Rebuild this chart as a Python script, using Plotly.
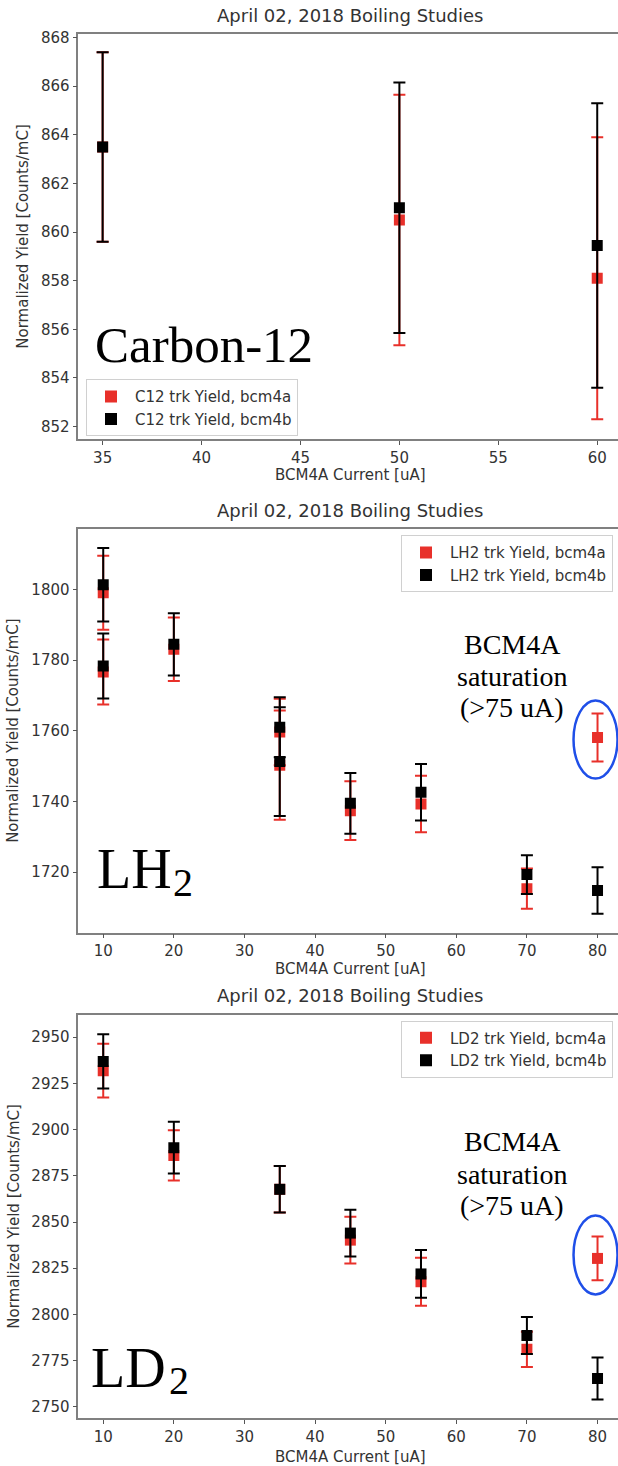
import plotly.graph_objects as go

# ---------------- data ----------------
# Carbon-12
c12_x = [35, 50, 60]
c12_a = [863.5, 860.5, 858.1]
c12_a_err = [3.9, 5.15, 5.8]
c12_b = [863.5, 861.0, 859.45]
c12_b_err = [3.9, 5.15, 5.85]

# LH2
lh2_x = [10, 10, 20, 35, 35, 45, 55, 70, 80]
lh2_a = [1799.1, 1776.7, 1783.1, 1759.7, 1750.3, 1737.4, 1739.3, 1715.3, 1758.1]
lh2_a_err = [10.5, 9.2, 9.0, 9.4, 15.5, 8.3, 8.0, 5.7, 6.8]
lh2_b = [1801.4, 1778.4, 1784.5, 1761.0, 1751.3, 1739.5, 1742.6, 1719.3, 1714.8]
lh2_b_err = [10.4, 9.2, 8.8, 8.5, 15.4, 8.6, 8.0, 5.5, 6.6]

# LD2
ld2_x = [10, 20, 35, 45, 55, 70, 80]
ld2_a = [2931.9, 2886.0, 2867.7, 2840.2, 2817.7, 2781.1, 2830.3]
ld2_a_err = [14.5, 13.6, 12.6, 12.7, 13.0, 9.5, 11.8]
ld2_b = [2936.9, 2890.2, 2867.7, 2844.0, 2821.9, 2788.6, 2765.3]
ld2_b_err = [14.7, 14.0, 12.6, 12.6, 12.9, 10.0, 11.4]

c12_names = ["C12 trk Yield, bcm4a", "C12 trk Yield, bcm4b"]
lh2_names = ["LH2 trk Yield, bcm4a", "LH2 trk Yield, bcm4b"]
ld2_names = ["LD2 trk Yield, bcm4a", "LD2 trk Yield, bcm4b"]

c12_yticks = [852, 854, 856, 858, 860, 862, 864, 866, 868]
c12_xticks = [35, 40, 45, 50, 55, 60]
lh2_yticks = [1720, 1740, 1760, 1780, 1800]
ld2_yticks = [2750, 2775, 2800, 2825, 2850, 2875, 2900, 2925, 2950]
cur_xticks = [10, 20, 30, 40, 50, 60, 70, 80]

title_text = "April 02, 2018 Boiling Studies"
xlabel = "BCM4A Current [uA]"
ylabel = "Normalized Yield [Counts/mC]"
sat_lines = ["BCM4A", "saturation", "(>75 uA)"]

# ---------------- style / layout ----------------
W, H = 618, 1466
RED = "#e8302a"
BLACK = "#000000"
SANS = "DejaVu Sans"
SERIF = "Liberation Serif"
AXCOL = "#808080"
TXT = "#333333"

def py(px):
    return 1 - px / H

def px_x(px):
    return px / W

X0 = 78.3
panels = [
    dict(top=29.3, bottom=435.7, xr=[33.77, 61.05], yr=[851.48, 868.14]),
    dict(top=526.0, bottom=930.7, xr=[6.47, 82.9], yr=[1702.9, 1817.1]),
    dict(top=1013.3, bottom=1418.3, xr=[6.47, 82.9], yr=[2743.7, 2962.1]),
]

fig = go.Figure()

datasets = [
    (c12_x, c12_a, c12_a_err, c12_b, c12_b_err, c12_names, "legend"),
    (lh2_x, lh2_a, lh2_a_err, lh2_b, lh2_b_err, lh2_names, "legend2"),
    (ld2_x, ld2_a, ld2_a_err, ld2_b, ld2_b_err, ld2_names, "legend3"),
]

for i, (xs, ya, ea, yb, eb, names, leg) in enumerate(datasets):
    xa = "x" if i == 0 else f"x{i+1}"
    yaa = "y" if i == 0 else f"y{i+1}"
    for ys, es, col, nm in [(ya, ea, RED, names[0]), (yb, eb, BLACK, names[1])]:
        fig.add_trace(go.Scatter(
            x=xs, y=ys, mode="markers", name=nm, legend=leg,
            xaxis=xa, yaxis=yaa,
            marker=dict(symbol="square", size=11, color=col, line=dict(width=0)),
            error_y=dict(type="data", array=es, visible=True, color=col,
                         thickness=2, width=6),
        ))

axis_common = dict(
    showgrid=False, zeroline=False, showline=True, linecolor=AXCOL, linewidth=1.5,
    ticks="outside", ticklen=4, tickwidth=1.2, tickcolor="#555555",
    tickfont=dict(family=SANS, size=15, color=TXT),
)

layout_axes = {}
tick_sets = [(c12_xticks, c12_yticks), (cur_xticks, lh2_yticks), (cur_xticks, ld2_yticks)]
for i, p in enumerate(panels):
    xk = "xaxis" if i == 0 else f"xaxis{i+1}"
    yk = "yaxis" if i == 0 else f"yaxis{i+1}"
    ya_name = "y" if i == 0 else f"y{i+1}"
    xa_name = "x" if i == 0 else f"x{i+1}"
    xt, yt = tick_sets[i]
    layout_axes[xk] = dict(axis_common, domain=[X0 / W, 1.0], range=p["xr"],
                           anchor=ya_name, tickvals=xt, mirror=True)
    layout_axes[yk] = dict(axis_common, domain=[py(p["bottom"]), py(p["top"])],
                           range=p["yr"], anchor=xa_name, tickvals=yt, mirror=False,
                           ticklabelstandoff=0)

fig.update_layout(
    width=W, height=H,
    margin=dict(l=0, r=0, t=0, b=0),
    paper_bgcolor="white", plot_bgcolor="white",
    showlegend=True,
    **layout_axes,
)

leg_common = dict(
    xanchor="left", yanchor="top", bgcolor="rgba(255,255,255,0.85)",
    bordercolor="#d0d0d0", borderwidth=1, itemwidth=38,
    font=dict(family=SANS, size=15, color=TXT), itemsizing="constant",
)
fig.update_layout(
    legend=dict(leg_common, x=px_x(86), y=py(375.5)),
    legend2=dict(leg_common, x=px_x(401), y=py(532)),
    legend3=dict(leg_common, x=px_x(401), y=py(1019)),
)

ann = []
title_y = [11, 507, 994]
xlab_y = [472, 967, 1457]
ylab_x = [23, 13, 14]
for i, p in enumerate(panels):
    cx = (X0 + 622) / 2
    ann.append(dict(text=title_text, x=px_x(cx), y=py(title_y[i]), xref="paper", yref="paper",
                    xanchor="center", yanchor="middle", showarrow=False,
                    font=dict(family=SANS, size=18, color=TXT)))
    ann.append(dict(text=xlabel, x=px_x(cx), y=py(xlab_y[i]), xref="paper", yref="paper",
                    xanchor="center", yanchor="middle", showarrow=False,
                    font=dict(family=SANS, size=15, color=TXT)))
    ann.append(dict(text=ylabel, x=px_x(ylab_x[i]), y=py((p["top"] + p["bottom"]) / 2),
                    xref="paper", yref="paper", textangle=-90,
                    xanchor="center", yanchor="middle", showarrow=False,
                    font=dict(family=SANS, size=15, color=TXT)))

# big target labels
big = [
    ("Carbon-12", 93, 341, 51),
    ("LH", 95, 867, 56),
    ("LD", 89, 1368, 56),
]
for t, xx, yy, fs in big:
    ann.append(dict(text=t, x=px_x(xx), y=py(yy), xref="paper", yref="paper",
                    xanchor="left", yanchor="middle", showarrow=False,
                    font=dict(family=SERIF, size=fs, color="black")))
for xx, yy in [(171, 881), (167, 1380)]:
    ann.append(dict(text="2", x=px_x(xx), y=py(yy), xref="paper", yref="paper",
                    xanchor="left", yanchor="middle", showarrow=False,
                    font=dict(family=SERIF, size=40, color="black")))

# saturation notes
for ys in ([642, 673.5, 705], [1140, 1174, 1205]):
    for line, yy in zip(sat_lines, ys):
        ann.append(dict(text=line, x=px_x(512), y=py(yy), xref="paper", yref="paper",
                        xanchor="center", yanchor="middle", showarrow=False,
                        font=dict(family=SERIF, size=28, color="black")))

fig.update_layout(annotations=ann)

# blue hand-drawn circles around the saturated bcm4a point at 80 uA
shapes = []
for xa, ya, yval, (lo, hi) in [("x2", "y2", lh2_a[-1], (-41, 37)),
                                ("x3", "y3", ld2_a[-1], (-36, 43))]:
    shapes.append(dict(type="circle", xref=xa, yref=ya, xsizemode="pixel", ysizemode="pixel",
                       xanchor=lh2_x[-1], yanchor=yval, x0=-24, x1=20, y0=lo, y1=hi,
                       line=dict(color="#1f4fe8", width=2.5)))
fig.update_layout(shapes=shapes)

fig.write_html(
    "out.html",
    config={"displayModeBar": False},
    post_script="document.body.style.margin='0';document.body.style.overflow='hidden';",
)
